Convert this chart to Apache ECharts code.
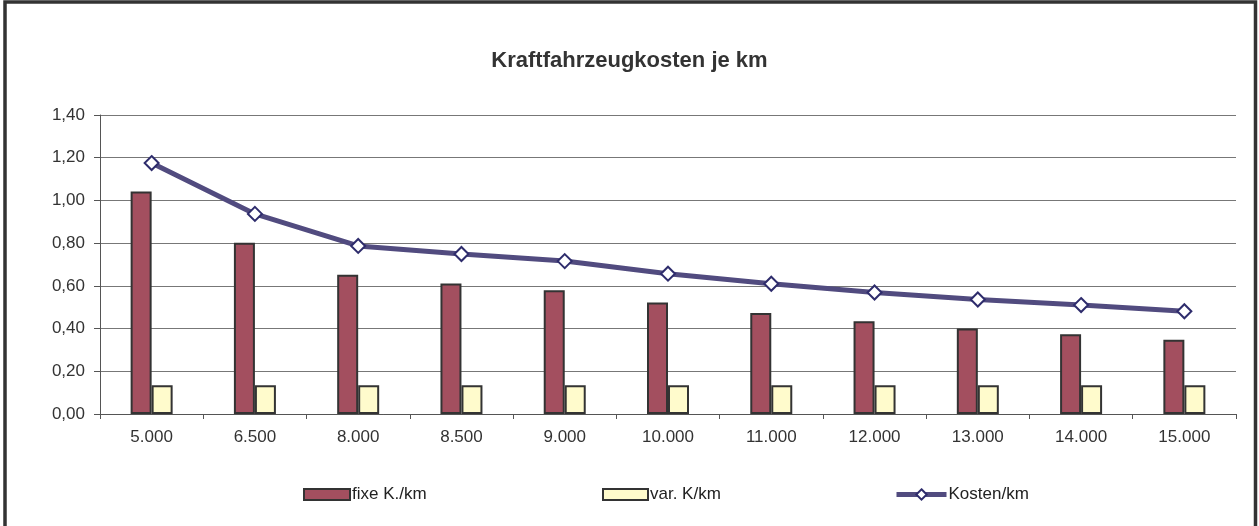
<!DOCTYPE html>
<html>
<head>
<meta charset="utf-8">
<script src="https://cdn.jsdelivr.net/npm/echarts@6/dist/echarts.min.js"></script>
<style>
  html, body { margin: 0; padding: 0; background: #fff; }
  #chart { width: 1259px; height: 526px; }
</style>
</head>
<body>
<div id="chart"></div>
<script>
// km pro Jahr
var kmKategorien = ['5.000', '6.500', '8.000', '8.500', '9.000', '10.000', '11.000', '12.000', '13.000', '14.000', '15.000'];
// fixe Kosten je km
var fixeKosten = [1.042, 0.802, 0.652, 0.611, 0.580, 0.522, 0.473, 0.434, 0.400, 0.373, 0.348];
// variable Kosten je km
var varKosten = [0.135, 0.135, 0.135, 0.135, 0.135, 0.135, 0.135, 0.135, 0.135, 0.135, 0.135];
// Gesamtkosten je km
var kostenKm = [1.175, 0.937, 0.787, 0.749, 0.716, 0.657, 0.610, 0.569, 0.536, 0.510, 0.481];

var myChart = echarts.init(document.getElementById('chart'));

var fontFam = '"Liberation Sans", Arial, Helvetica, sans-serif';

var option = {
    animation: false,
    backgroundColor: '#fff',
    textStyle: { fontFamily: fontFam },
    title: {
        text: 'Kraftfahrzeugkosten je km',
        left: 'center',
        top: 45,
        textStyle: {
            fontFamily: fontFam,
            fontSize: 22,
            fontWeight: 'bold',
            color: '#333'
        }
    },
    graphic: [{
        type: 'rect',
        shape: { x: 5, y: 2, width: 1250.5, height: 560 },
        style: { fill: 'none', stroke: '#333', lineWidth: 3.5 },
        silent: true
    }],
    legend: [{
        data: [{ name: 'fixe K./km', icon: 'rect' }],
        left: 298,
        top: 481,
        itemWidth: 46,
        itemHeight: 11,
        textStyle: { fontSize: 17, color: '#222', padding: [0, 0, 0, -3] }
    }, {
        data: [{ name: 'var. K/km', icon: 'rect' }],
        left: 597,
        top: 481,
        itemWidth: 45,
        itemHeight: 11,
        textStyle: { fontSize: 17, color: '#222', padding: [0, 0, 0, -3] }
    }, {
        data: ['Kosten/km'],
        left: 889,
        top: 481,
        itemWidth: 50,
        itemHeight: 13,
        lineStyle: { width: 5, color: '#514B7F' },
        textStyle: { fontSize: 17, color: '#222', padding: [0, 0, 0, -3] }
    }],
    grid: {
        left: 100,
        right: 23,
        top: 115,
        bottom: 112,
        containLabel: false
    },
    xAxis: {
        type: 'category',
        data: kmKategorien,
        boundaryGap: true,
        axisLine: { lineStyle: { color: '#555', width: 1 } },
        axisTick: { show: true, length: 5, lineStyle: { color: '#555' } },
        axisLabel: {
            fontSize: 17,
            color: '#333',
            margin: 15
        },
        splitLine: { show: false }
    },
    yAxis: {
        type: 'value',
        min: 0,
        max: 1.4,
        interval: 0.2,
        axisLine: { show: true, lineStyle: { color: '#555', width: 1 } },
        axisTick: { show: true, length: 6, lineStyle: { color: '#555' } },
        axisLabel: {
            fontSize: 17,
            color: '#333',
            margin: 15,
            formatter: function (v) {
                return v.toFixed(2).replace('.', ',');
            }
        },
        splitLine: { show: true, lineStyle: { color: '#777', width: 1 } }
    },
    series: [{
        name: 'fixe K./km',
        type: 'bar',
        data: fixeKosten,
        barWidth: 21,
        barGap: '0%',
        itemStyle: {
            color: '#A34F5F',
            borderColor: '#333',
            borderWidth: 2
        }
    }, {
        name: 'var. K/km',
        type: 'bar',
        data: varKosten,
        barWidth: 21,
        barGap: '0%',
        itemStyle: {
            color: '#FFFBCC',
            borderColor: '#333',
            borderWidth: 2
        }
    }, {
        name: 'Kosten/km',
        type: 'line',
        data: kostenKm,
        symbol: 'diamond',
        symbolSize: [14, 14],
        z: 5,
        lineStyle: { color: '#514B7F', width: 5 },
        itemStyle: {
            color: '#fff',
            borderColor: '#2E2C6C',
            borderWidth: 2
        }
    }]
};

myChart.setOption(option);
</script>
</body>
</html>
